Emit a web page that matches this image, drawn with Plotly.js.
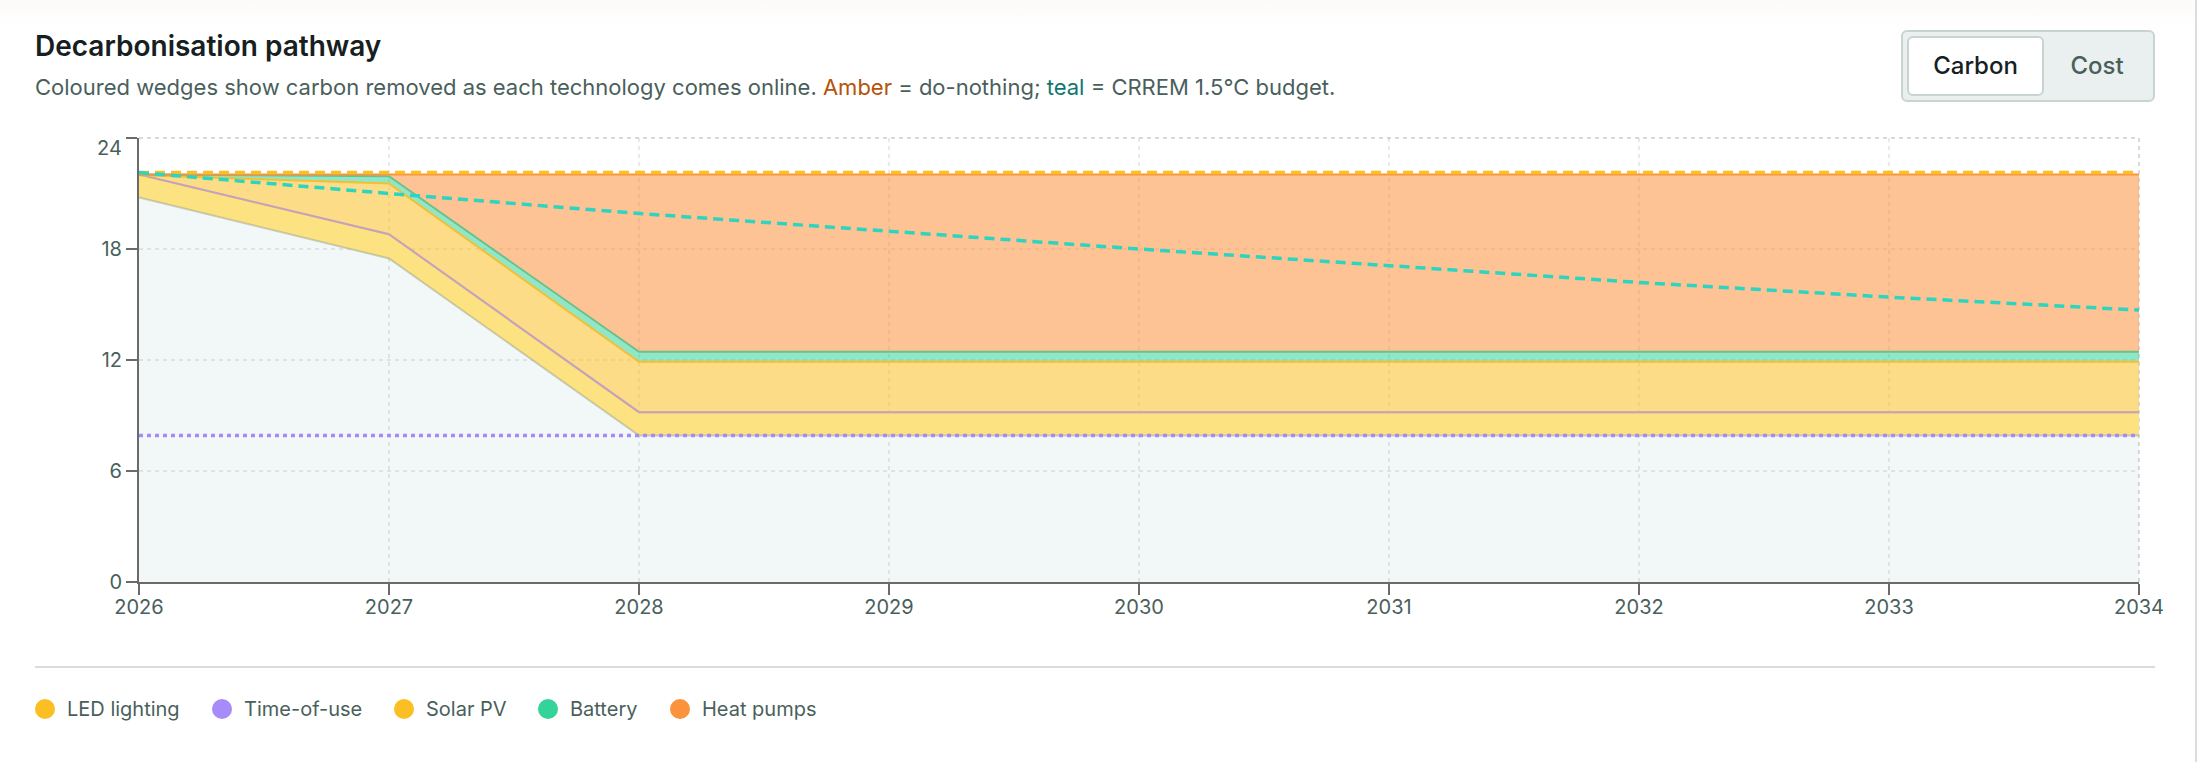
<!DOCTYPE html>
<html>
<head>
<meta charset="utf-8">
<title>Decarbonisation pathway</title>
<script src="https://cdn.plot.ly/plotly-3.0.1.min.js"></script>
<style>
  html, body { margin: 0; padding: 0; width: 2197px; height: 762px; overflow: hidden; background: #fff; font-family: Inter, sans-serif; }
  #page { position: relative; width: 2197px; height: 762px; background: linear-gradient(#fcfbfa, #fff 30px); }
  #edge { position: absolute; left: 2195px; top: 0; width: 2px; height: 762px; background: #d8dedd; }
  #plot { position: absolute; left: 0; top: 0; width: 2197px; height: 762px; }
  h1 { position: absolute; left: 35px; top: 30px; margin: 0; font-size: 28px; line-height: 32px; font-weight: 600; color: #16201f; }
  #sub { position: absolute; left: 35px; top: 74px; margin: 0; font-size: 22px; line-height: 26px; color: #4a5f5c; white-space: nowrap; }
  #sub .amber { color: #b45309; }
  #sub .teal { color: #0f766e; }
  #toggle { position: absolute; left: 1901px; top: 30px; width: 254px; height: 72px; box-sizing: border-box; background: #e9f0ef; border: 2px solid #c9d4d2; border-radius: 6px; }
  #toggle div { position: absolute; top: 4px; height: 60px; line-height: 60px; text-align: center; font-size: 24px; font-weight: 500; box-sizing: border-box; }
  #carbon { left: 4px; width: 137px; background: #fff; border: 2px solid #c9d4d2; border-radius: 6px; color: #16201f; line-height: 56px !important; }
  #cost { left: 141px; width: 106px; color: #4a5f5c; }
  #rule { position: absolute; left: 35px; top: 666px; width: 2120px; height: 2px; background: #d8dedd; }
  .key { position: absolute; top: 699px; height: 20px; line-height: 20px; font-size: 20px; color: #4a5f5c; white-space: nowrap; }
  .key i { position: absolute; left: 0; top: 0; width: 20px; height: 20px; border-radius: 50%; }
  .key span { position: absolute; top: 0; }
</style>
</head>
<body>
<div id="page">
  <div id="plot"></div>
  <h1>Decarbonisation pathway</h1>
  <p id="sub">Coloured wedges show carbon removed as each technology comes online. <span class="amber">Amber</span> = do-nothing; <span class="teal">teal</span> = CRREM 1.5°C budget.</p>
  <div id="toggle"><div id="carbon">Carbon</div><div id="cost">Cost</div></div>
  <div id="rule"></div>
  <div id="legend"></div>
  <div id="edge"></div>
</div>
<script>
const years = [2026, 2027, 2028, 2029, 2030, 2031, 2032, 2033, 2034];

// top edge of each wedge, tCO2
const remaining = [20.78, 17.49, 7.92, 7.92, 7.92, 7.92, 7.92, 7.92, 7.92];
const ledTop = [22.03, 18.8, 9.18, 9.18, 9.18, 9.18, 9.18, 9.18, 9.18];
const touTop = [22.03, 18.8, 9.18, 9.18, 9.18, 9.18, 9.18, 9.18, 9.18];
const solarTop = [21.99, 21.54, 11.9, 11.9, 11.9, 11.9, 11.9, 11.9, 11.9];
const batteryTop = [22.03, 21.93, 12.44, 12.44, 12.44, 12.44, 12.44, 12.44, 12.44];
const heatTop = [22.03, 22.03, 22.03, 22.03, 22.03, 22.03, 22.03, 22.03, 22.03];

const doNothing = [22.13, 22.13, 22.13, 22.13, 22.13, 22.13, 22.13, 22.13, 22.13];
const crremBudget = [22.13, 21.0, 19.92, 18.96, 18.0, 17.1, 16.19, 15.4, 14.7];
const target = [7.92, 7.92, 7.92, 7.92, 7.92, 7.92, 7.92, 7.92, 7.92];

const yTicks = [0, 6, 12, 18, 24];
const yTickText = ["0", "6", "12", "18", ""];

const legendNames = ["LED lighting", "Time-of-use", "Solar PV", "Battery", "Heat pumps"];
const legendColors = ["#fbbf24", "#a78bfa", "#fbbf24", "#34d399", "#fb923c"];
const legendDots = [35, 212, 394, 538, 670];
const legendTexts = [32, 32, 32, 32, 32];

function wedge(y, fill, stroke) {
  return {
    x: years,
    y: y,
    type: "scatter",
    mode: "lines",
    fill: "tonexty",
    fillcolor: fill,
    line: { color: stroke, width: 2 },
    hoverinfo: "skip",
    showlegend: false,
  };
}

function refLine(y, color, dash) {
  return {
    x: years,
    y: y,
    type: "scatter",
    mode: "lines",
    line: { color: color, width: 3.5, dash: dash },
    hoverinfo: "skip",
    showlegend: false,
  };
}

const traces = [
  Object.assign(wedge(remaining, "rgba(20,130,130,0.055)", "rgba(125,140,125,0.38)"), { fill: "tozeroy" }),
  wedge(ledTop, "rgba(253,224,122,0.95)", "rgba(251,191,36,0.6)"),
  wedge(touTop, "rgba(167,139,250,0.55)", "#c2a2c4"),
  wedge(solarTop, "rgba(251,191,36,0.55)", "#f3bf33"),
  wedge(batteryTop, "rgba(52,211,153,0.55)", "#6cc08a"),
  wedge(heatTop, "rgba(251,146,60,0.55)", "#fb923c"),
  refLine(doNothing, "#fbbf24", "10px,6px"),
  refLine(crremBudget, "#2dd4bf", "10px,6px"),
  refLine(target, "#a78bfa", "4px,4px"),
];

const tickFont = { family: "Inter, sans-serif", size: 20, color: "#4a5f5c" };
const gridColor = "rgba(150,155,155,0.22)";
const edgeGrid = "#dadada";

function axisStyle() {
  return {
    ticks: "outside",
    ticklen: 11,
    tickwidth: 2,
    tickcolor: "#6b6b6b",
    showline: true,
    linecolor: "#6b6b6b",
    linewidth: 2,
    showgrid: true,
    gridcolor: gridColor,
    griddash: "4px,4px",
    gridwidth: 2,
    zeroline: false,
    tickfont: tickFont,
  };
}

const layout = {
  width: 2197,
  height: 762,
  margin: { l: 139, r: 58, t: 138, b: 180 },
  paper_bgcolor: "rgba(0,0,0,0)",
  plot_bgcolor: "rgba(0,0,0,0)",
  xaxis: Object.assign(axisStyle(), {
    range: [2026, 2034],
    tickvals: years,
    ticktext: years.map(String),
    ticklabelstandoff: -5,
  }),
  yaxis: Object.assign(axisStyle(), {
    range: [0, 24],
    tickvals: yTicks,
    ticktext: yTickText,
  }),
  // grid lines on the far edges, plotly leaves these out
  shapes: [
    { type: "line", layer: "below", xref: "paper", yref: "paper", x0: 0, x1: 1, y0: 1, y1: 1, line: { color: edgeGrid, width: 2, dash: "4px,4px" } },
    { type: "line", layer: "below", xref: "paper", yref: "paper", x0: 1, x1: 1, y0: 0, y1: 1, line: { color: edgeGrid, width: 2, dash: "4px,4px" } },
  ],
  annotations: [
    {
      // the top label sits below its tick in the original
      text: "24",
      xref: "paper",
      yref: "y",
      x: 0,
      y: 24,
      xanchor: "right",
      yanchor: "middle",
      xshift: -15,
      yshift: -10,
      showarrow: false,
      font: tickFont,
    },
  ],
};

const config = { displayModeBar: false, responsive: false };

Plotly.newPlot("plot", traces, layout, config);

const legendBox = document.getElementById("legend");
legendNames.forEach((name, i) => {
  const key = document.createElement("div");
  key.className = "key";
  key.style.left = legendDots[i] + "px";
  key.innerHTML = '<i style="background:' + legendColors[i] + '"></i><span style="left:' + legendTexts[i] + 'px">' + name + "</span>";
  legendBox.appendChild(key);
});
</script>
</body>
</html>
